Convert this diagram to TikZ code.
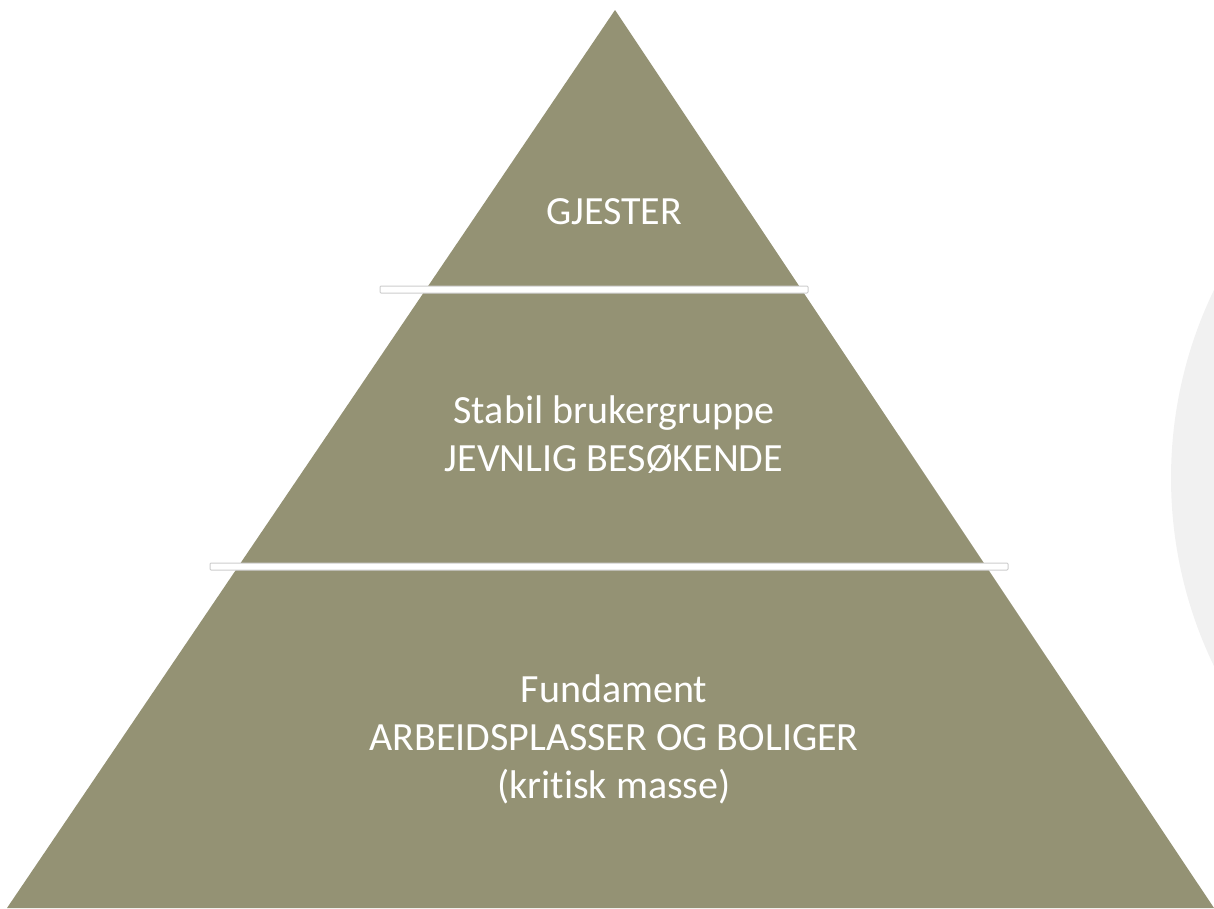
\documentclass[tikz,border=0pt]{standalone}
\usepackage{fontspec}
\setmainfont{Carlito}[Ligatures=NoCommon]
\definecolor{pyramidgreen}{RGB}{148,146,116}
\definecolor{backgrey}{RGB}{241,241,241}
\definecolor{rimgrey}{RGB}{205,205,205}

\begin{document}
\begin{tikzpicture}[x=1pt, y=-1pt,
	tier/.style = {text=white, align=center, font=\fontsize{40}{48}\selectfont},
	divider/.style = {fill=white, draw=rimgrey, line width=1pt, rounded corners=1pt}]
	\useasboundingbox (0,0) rectangle (1214,908);
	\clip (0,0) rectangle (1214,908);
	\fill[backgrey] (1603,478) circle (432);
	\fill[pyramidgreen] (615,10)--(1214,908)--(7,908)--cycle;
	\draw[divider] (380,286) rectangle (808,293);
	\draw[divider] (210,563) rectangle (1008,570);
	\node[tier] (guests) at (614,212) {GJESTER};
	\node[tier] (regulars) at (614,435) {Stabil brukergruppe\\JEVNLIG BESØKENDE};
	\node[tier] (foundation) at (614,739) {Fundament\\ARBEIDSPLASSER OG BOLIGER\\(kritisk masse)};
\end{tikzpicture}
\end{document}
